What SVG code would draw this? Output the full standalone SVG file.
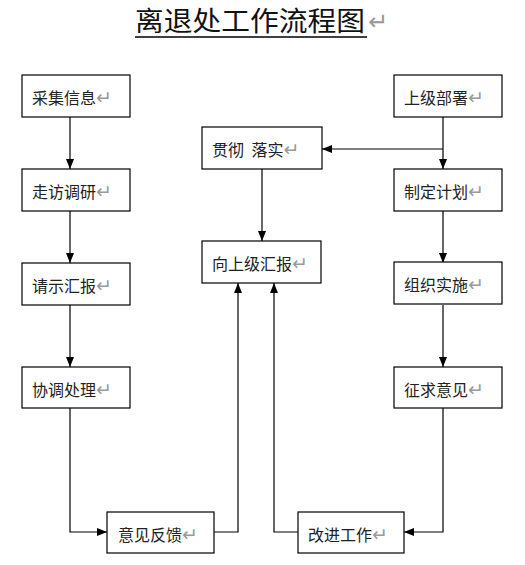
<svg xmlns="http://www.w3.org/2000/svg" width="525" height="565" viewBox="0 0 525 565">
<style>
.box{fill:#fff;stroke:#000;stroke-width:1.2}
.t{font-family:"Noto Sans CJK SC","Noto Sans",sans-serif;font-size:16px;fill:#222}
.r{fill:#999;font-family:"DejaVu Sans","Liberation Sans",sans-serif;font-size:19px}
.ln{fill:none;stroke:#000;stroke-width:1.2}
.title{font-family:"Noto Sans CJK SC",sans-serif;font-size:27px;fill:#111}
</style>
<defs>
<marker id="ah" markerUnits="userSpaceOnUse" markerWidth="10" markerHeight="10" viewBox="0 0 10 10" refX="10" refY="5" orient="auto">
<path d="M0,1 L10,5 L0,9 Z" fill="#000"/>
</marker>
</defs>
<rect width="525" height="565" fill="#fff"/>
<g id="title">
<text class="title" x="135" y="31" textLength="230" lengthAdjust="spacingAndGlyphs">离退处工作流程图</text>
<text class="r" x="368" y="30" style="font-size:24px">↵</text>
<line x1="135" y1="37" x2="367" y2="37" stroke="#000" stroke-width="1.5"/>
</g>
<g id="connectors">
<line class="ln" x1="70" y1="117" x2="70" y2="169" marker-end="url(#ah)"/>
<line class="ln" x1="70" y1="211" x2="70" y2="263" marker-end="url(#ah)"/>
<line class="ln" x1="70" y1="305" x2="70" y2="367" marker-end="url(#ah)"/>
<polyline class="ln" points="70,408 70,532 107,532" marker-end="url(#ah)"/>
<line class="ln" x1="443" y1="117" x2="443" y2="169" marker-end="url(#ah)"/>
<line class="ln" x1="443" y1="149" x2="322" y2="149" marker-end="url(#ah)"/>
<line class="ln" x1="443" y1="211" x2="443" y2="263" marker-end="url(#ah)"/>
<line class="ln" x1="443" y1="305" x2="443" y2="367" marker-end="url(#ah)"/>
<polyline class="ln" points="443,408 443,532 404,532" marker-end="url(#ah)"/>
<line class="ln" x1="262" y1="169" x2="262" y2="241" marker-end="url(#ah)"/>
<polyline class="ln" points="214,532 238,532 238,283" marker-end="url(#ah)"/>
<polyline class="ln" points="298,532 274,532 274,283" marker-end="url(#ah)"/>
</g>
<g id="n1"><rect class="box" x="22" y="75" width="108" height="42"/><text class="t" x="32" y="104">采集信息<tspan class="r">↵</tspan></text></g>
<g id="n2"><rect class="box" x="22" y="169" width="108" height="42"/><text class="t" x="32" y="198">走访调研<tspan class="r">↵</tspan></text></g>
<g id="n3"><rect class="box" x="22" y="263" width="108" height="42"/><text class="t" x="32" y="292">请示汇报<tspan class="r">↵</tspan></text></g>
<g id="n4"><rect class="box" x="22" y="367" width="108" height="41"/><text class="t" x="32" y="396">协调处理<tspan class="r">↵</tspan></text></g>
<g id="n5"><rect class="box" x="394" y="75" width="108" height="42"/><text class="t" x="404" y="104">上级部署<tspan class="r">↵</tspan></text></g>
<g id="n6"><rect class="box" x="394" y="169" width="108" height="42"/><text class="t" x="404" y="198">制定计划<tspan class="r">↵</tspan></text></g>
<g id="n7"><rect class="box" x="394" y="262" width="108" height="42"/><text class="t" x="404" y="291">组织实施<tspan class="r">↵</tspan></text></g>
<g id="n8"><rect class="box" x="394" y="367" width="108" height="41"/><text class="t" x="404" y="396">征求意见<tspan class="r">↵</tspan></text></g>
<g id="n9"><rect class="box" x="202" y="127" width="120" height="42"/><text class="t" x="212" y="156">贯彻 <tspan dx="4">落实</tspan><tspan class="r">↵</tspan></text></g>
<g id="n10"><rect class="box" x="202" y="241" width="119" height="42"/><text class="t" x="212" y="270">向上级汇报<tspan class="r">↵</tspan></text></g>
<g id="n11"><rect class="box" x="107" y="512" width="107" height="41"/><text class="t" x="118" y="541">意见反馈<tspan class="r">↵</tspan></text></g>
<g id="n12"><rect class="box" x="298" y="512" width="106" height="41"/><text class="t" x="308" y="541">改进工作<tspan class="r">↵</tspan></text></g>
</svg>
